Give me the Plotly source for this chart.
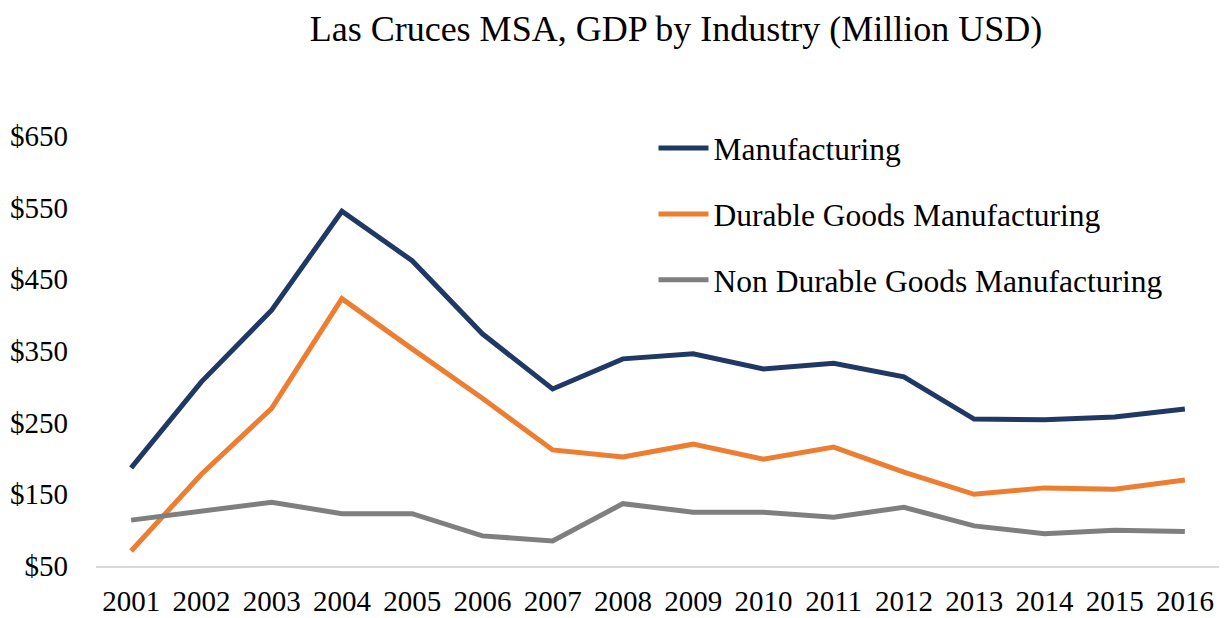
import plotly.graph_objects as go

years = [str(y) for y in range(2001, 2017)]
manufacturing = [187, 307, 407, 545, 476, 374, 297, 339, 346, 325, 333, 314, 255, 254, 258, 269]
durable = [71, 178, 270, 423, 353, 284, 212, 202, 220, 199, 216, 181, 150, 159, 157, 170]
non_durable = [114, 127, 139, 123, 123, 92, 85, 137, 125, 125, 118, 132, 106, 95, 100, 98]
y_ticks = [50, 150, 250, 350, 450, 550, 650]
y_tick_labels = ["$" + str(v) for v in y_ticks]

FONT = "Liberation Serif"

fig = go.Figure()
series = [
    ("Manufacturing", manufacturing, "#203864"),
    ("Durable Goods Manufacturing", durable, "#ED7D31"),
    ("Non Durable Goods Manufacturing", non_durable, "#7F7F7F"),
]
for i, (name, vals, col) in enumerate(series):
    fig.add_trace(go.Scatter(
        x=years, y=vals, mode="lines", name=name, legendgroup=str(i),
        line=dict(color=col, width=5),
    ))

fig.update_layout(
    width=1219, height=610,
    paper_bgcolor="white", plot_bgcolor="white",
    margin=dict(l=88, r=7, t=128, b=52),
    font=dict(family=FONT, color="#000000", size=29),
    title=dict(text="Las Cruces MSA, GDP by Industry (Million USD)",
               x=0.548, xanchor="center", y=0.967, yanchor="middle",
               font=dict(family=FONT, size=36, color="#000000")),
    showlegend=True,
    legend=dict(x=0.496, xanchor="left", y=1.035, yanchor="top",
                bgcolor="rgba(0,0,0,0)", font=dict(family=FONT, size=31.5),
                tracegroupgap=22, itemwidth=50),
    xaxis=dict(type="category", range=[-0.5, 15.5], showgrid=False,
               showline=True, linecolor="#D9D9D9", linewidth=1.5,
               ticks="", tickfont=dict(size=29), ticklabelstandoff=8,
               automargin=False),
    yaxis=dict(range=[50, 650], tickvals=y_ticks, ticktext=y_tick_labels,
               showgrid=False, zeroline=False, showline=False, ticks="",
               tickfont=dict(size=29), ticklabelstandoff=27,
               automargin=False),
)

fig.write_html("out.html")
